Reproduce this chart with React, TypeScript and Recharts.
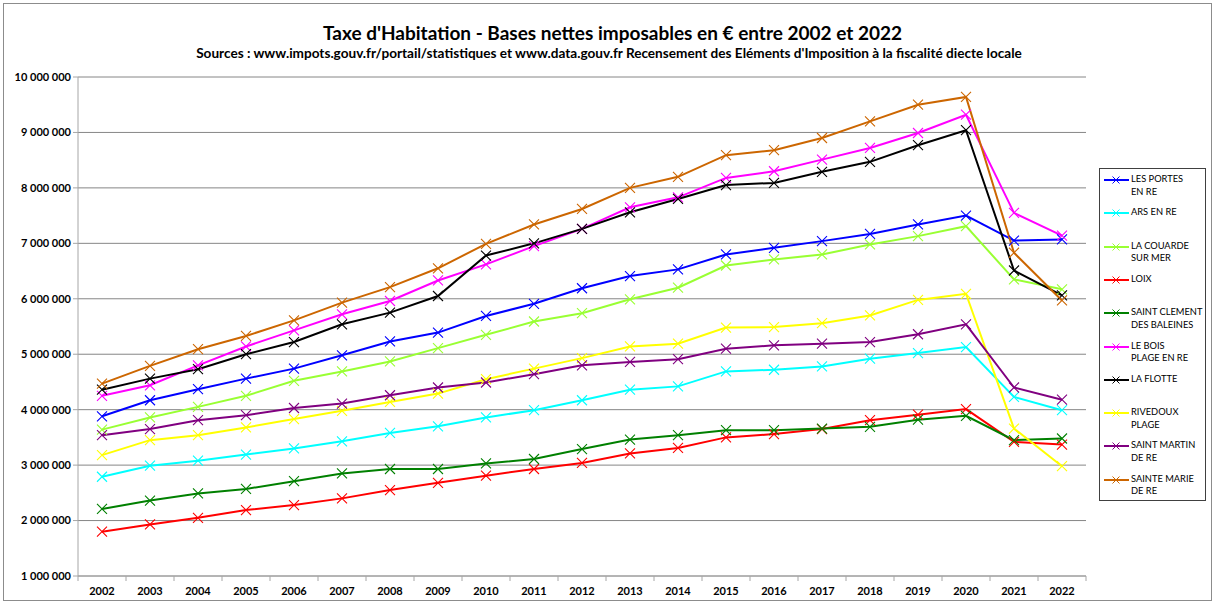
import React from "react"
import { LineChart, Line, XAxis, YAxis, CartesianGrid } from "recharts"

const years = ["2002","2003","2004","2005","2006","2007","2008","2009","2010","2011","2012","2013","2014","2015","2016","2017","2018","2019","2020","2021","2022"]

const lesPortes = [3880000,4170000,4370000,4560000,4740000,4980000,5230000,5390000,5690000,5910000,6190000,6410000,6530000,6800000,6920000,7040000,7170000,7340000,7500000,7050000,7070000]
const arsEnRe = [2790000,2990000,3080000,3190000,3300000,3430000,3580000,3700000,3860000,3990000,4170000,4360000,4420000,4690000,4720000,4780000,4920000,5020000,5130000,4230000,3990000]
const laCouarde = [3640000,3860000,4050000,4250000,4520000,4690000,4870000,5110000,5350000,5590000,5740000,5990000,6200000,6600000,6710000,6800000,6980000,7130000,7310000,6350000,6170000]
const loix = [1800000,1930000,2050000,2190000,2280000,2400000,2550000,2680000,2810000,2930000,3040000,3210000,3310000,3500000,3560000,3650000,3810000,3910000,4010000,3420000,3370000]
const saintClement = [2210000,2360000,2490000,2570000,2710000,2850000,2930000,2930000,3030000,3110000,3290000,3460000,3540000,3630000,3630000,3660000,3690000,3820000,3890000,3450000,3480000]
const leBois = [4250000,4440000,4800000,5140000,5430000,5720000,5960000,6330000,6620000,6950000,7260000,7650000,7830000,8180000,8300000,8510000,8720000,8990000,9320000,7550000,7140000]
const laFlotte = [4360000,4560000,4730000,5000000,5220000,5540000,5750000,6050000,6780000,7000000,7260000,7560000,7800000,8050000,8090000,8290000,8470000,8770000,9040000,6510000,6060000]
const rivedoux = [3180000,3450000,3540000,3680000,3830000,3980000,4140000,4290000,4550000,4740000,4930000,5140000,5190000,5480000,5490000,5560000,5700000,5980000,6090000,3660000,2980000]
const saintMartin = [3540000,3650000,3810000,3900000,4030000,4110000,4260000,4400000,4490000,4640000,4800000,4860000,4910000,5100000,5160000,5190000,5220000,5360000,5540000,4400000,4180000]
const sainteMarie = [4470000,4790000,5090000,5330000,5610000,5930000,6210000,6550000,6990000,7340000,7620000,8000000,8200000,8590000,8680000,8900000,9200000,9500000,9640000,6830000,5970000]

const yTicks = [1000000,2000000,3000000,4000000,5000000,6000000,7000000,8000000,9000000,10000000]

const series = [
  { key: "lesPortes", name: ["LES PORTES", "EN RE"], color: "#0000ff", values: lesPortes },
  { key: "arsEnRe", name: ["ARS EN RE"], color: "#00ffff", values: arsEnRe },
  { key: "laCouarde", name: ["LA COUARDE", "SUR MER"], color: "#99ff33", values: laCouarde },
  { key: "loix", name: ["LOIX"], color: "#ff0000", values: loix },
  { key: "saintClement", name: ["SAINT CLEMENT", "DES BALEINES"], color: "#008000", values: saintClement },
  { key: "leBois", name: ["LE BOIS", "PLAGE EN RE"], color: "#ff00ff", values: leBois },
  { key: "laFlotte", name: ["LA FLOTTE"], color: "#000000", values: laFlotte },
  { key: "rivedoux", name: ["RIVEDOUX", "PLAGE"], color: "#ffff00", values: rivedoux },
  { key: "saintMartin", name: ["SAINT MARTIN", "DE RE"], color: "#800080", values: saintMartin },
  { key: "sainteMarie", name: ["SAINTE MARIE", "DE RE"], color: "#cc6600", values: sainteMarie },
]

const data = years.map((year, i) => {
  const row: any = { year }
  series.forEach((s) => { row[s.key] = s.values[i] })
  return row
})

const fmt = (v: number) => String(v).replace(/\B(?=(\d{3})+(?!\d))/g, "\u00a0")

const font = "Lato, 'Noto Sans', sans-serif"

const crossDot = (color: string) => (props: any) => {
  const { cx, cy, index } = props
  if (cx == null || cy == null) return <g key={index} />
  const s = 5
  return (
    <path key={index} d={`M${cx - s},${cy - s}L${cx + s},${cy + s}M${cx - s},${cy + s}L${cx + s},${cy - s}`}
      stroke={color} strokeWidth={1.1} fill="none" />
  )
}

const XTick = (props: any) => {
  const { x, y, payload, index } = props
  const half = 24
  return (
    <g>
      <line x1={x - half} y1={y} x2={x - half} y2={y + 5} stroke="#a6a6a6" />
      {index === years.length - 1 && <line x1={x + half} y1={y} x2={x + half} y2={y + 5} stroke="#a6a6a6" />}
      <text x={x} y={y + 19} textAnchor="middle" fontSize={11} fontWeight="bold" fill="#000" fontFamily={font}>
        {payload.value}
      </text>
    </g>
  )
}

export default function App() {
  return (
    <div style={{ position: "absolute", left: 0, top: 0, width: 1215, height: 604, background: "#fff", fontFamily: font }}>
      <div style={{ position: "absolute", left: 3, top: 3, width: 1207, height: 596, border: "1px solid #8c8c8c" }} />
      <div style={{ position: "absolute", left: 0, width: 1225, top: 21, textAlign: "center", fontSize: 19, fontWeight: "bold", lineHeight: "24px" }}>
        Taxe d'Habitation - Bases nettes imposables en € entre 2002 et 2022
      </div>
      <div style={{ position: "absolute", left: 0, width: 1218, top: 45, textAlign: "center", fontSize: 13.6, fontWeight: "bold", lineHeight: "16px" }}>
        Sources : www.impots.gouv.fr/portail/statistiques et www.data.gouv.fr Recensement des Eléments d'Imposition à la fiscalité diecte locale
      </div>
      <LineChart width={1215} height={604} data={data} margin={{ top: 77, right: 129, bottom: 8, left: 8 }} style={{ position: "absolute", left: 0, top: 0 }}>
        <CartesianGrid vertical={false} stroke="#868686" />
        <XAxis dataKey="year" padding={{ left: 24, right: 24 }} stroke="#a6a6a6" tickLine={false} tickSize={0} tickMargin={0} height={20} tick={<XTick />} interval={0} />
        <YAxis domain={[1000000, 10000000]} ticks={yTicks} tickFormatter={fmt} width={70} stroke="#a6a6a6" tickSize={5}
          tick={{ fontSize: 11, fontWeight: "bold", fill: "#000", fontFamily: font }} interval={0} />
        {series.map((s) => (
          <Line key={s.key} dataKey={s.key} stroke={s.color} strokeWidth={2} dot={crossDot(s.color)} activeDot={false} isAnimationActive={false} />
        ))}
      </LineChart>
      <div style={{ position: "absolute", left: 1099, top: 168, width: 105, height: 331, border: "1px solid #404040", background: "#fff" }}>
        {series.map((s, i) => (
          <div key={s.key} style={{ position: "absolute", left: 0, top: 4 + i * 33.3, width: 105 }}>
            <svg width={26} height={12} style={{ position: "absolute", left: 4, top: 1 }}>
              <line x1={0} y1={6} x2={25} y2={6} stroke={s.color} strokeWidth={2} />
              <path d="M8.5,2.5L15.5,9.5M8.5,9.5L15.5,2.5" stroke={s.color} strokeWidth={1} />
            </svg>
            <div style={{ position: "absolute", left: 31, top: 0, fontSize: 9.3, lineHeight: "12.7px", color: "#000", whiteSpace: "nowrap" }}>
              {s.name.map((n) => <div key={n}>{n}</div>)}
            </div>
          </div>
        ))}
      </div>
    </div>
  )
}
